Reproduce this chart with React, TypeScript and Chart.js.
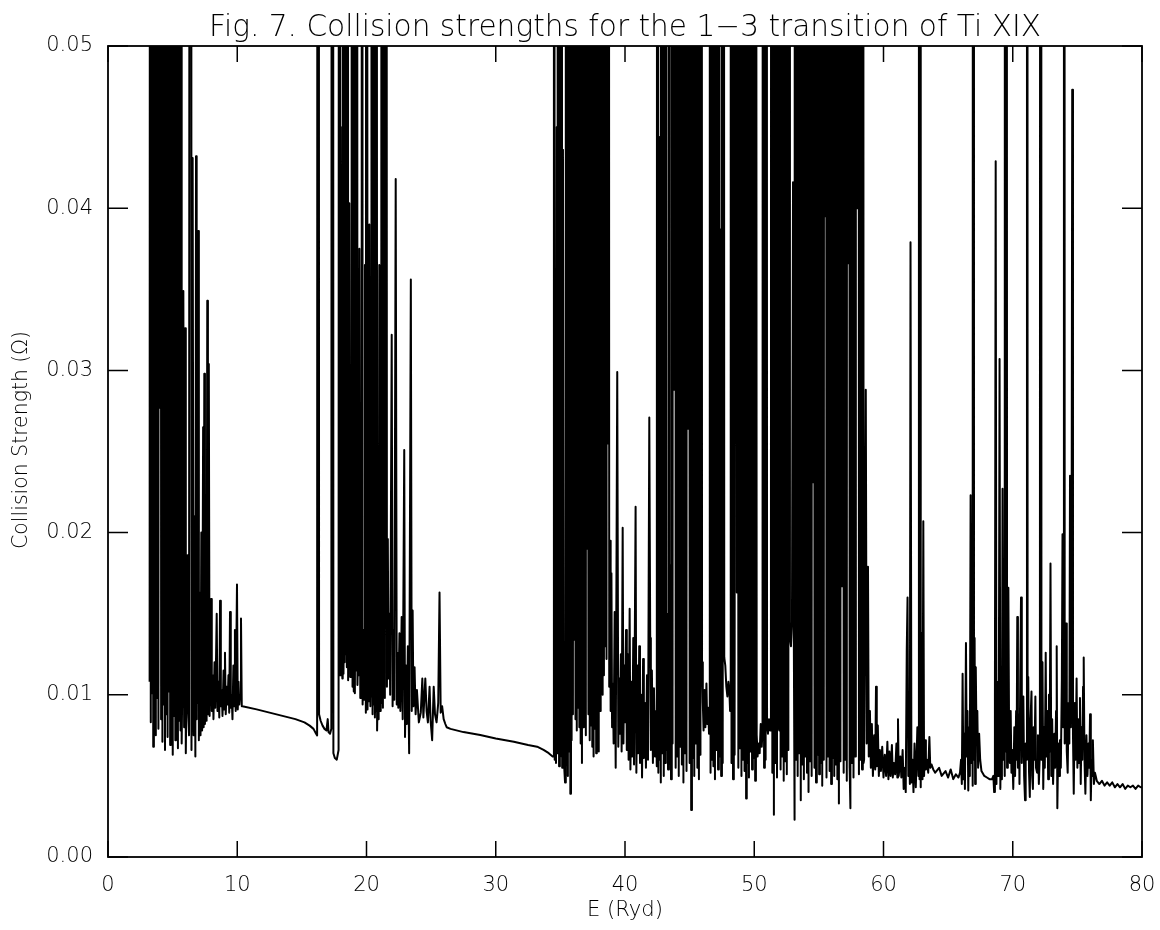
import React, { useEffect, useRef } from "react";
import { Chart, registerables } from "chart.js";

Chart.register(...registerables);

const TITLE = "Fig. 7. Collision strengths for the 1\u22123 transition of Ti XIX";
const X_TITLE = "E (Ryd)";
const Y_TITLE = "Collision Strength (\u03A9)";
const X_TICKS = [0, 10, 20, 30, 40, 50, 60, 70, 80];
const Y_TICKS = [0, 0.01, 0.02, 0.03, 0.04, 0.05];

type Pt = [number, number];

// E (Ryd), Omega
const segThreshold: Pt[] = [
  [3.22,0.0108],[3.27,0.16],[3.31,0.0083],[3.36,0.20],[3.41,0.0101],[3.46,0.14],[3.50,0.0068],[3.55,0.25],[3.60,0.0092],[3.65,0.11],
  [3.70,0.0075],[3.75,0.18],[3.80,0.0098],[3.85,0.30],[3.90,0.0079],[3.95,0.12],[4.00,0.0277],[4.06,0.22],[4.11,0.0085],[4.16,0.15],
  [4.21,0.0071],[4.26,0.19],[4.31,0.0094],[4.36,0.13],[4.41,0.0066],[4.46,0.28],[4.51,0.0088],[4.56,0.10],[4.61,0.0074],[4.66,0.17],
  [4.71,0.0102],[4.76,0.21],[4.81,0.0069],[4.86,0.12],[4.91,0.0090],[4.96,0.16],[5.01,0.0063],[5.06,0.24],[5.11,0.0087],[5.16,0.13],
  [5.21,0.0072],[5.26,0.18],[5.31,0.0095],[5.36,0.11],[5.41,0.0067],[5.46,0.20],[5.51,0.0084],[5.56,0.15],[5.61,0.0078],[5.65,0.09],
];

const segDecay: Pt[] = [
  [5.70,0.0070],[5.78,0.0130],[5.83,0.0349],[5.89,0.0080],[5.96,0.0326],[6.02,0.0064],[6.08,0.0110],[6.14,0.0186],[6.20,0.0090],[6.27,0.0075],
  [6.40,0.26],[6.46,0.0066],[6.55,0.0431],[6.62,0.0075],[6.70,0.0210],[6.76,0.0062],[6.81,0.0432],[6.86,0.0085],[6.91,0.0354],[6.94,0.0095],
  [6.98,0.0386],[7.03,0.0072],[7.10,0.0163],[7.16,0.0075],[7.22,0.0200],[7.28,0.0078],[7.36,0.0265],[7.40,0.0080],[7.45,0.0298],[7.50,0.0082],
  [7.58,0.0170],[7.63,0.0084],[7.68,0.0343],[7.73,0.0088],[7.80,0.0304],[7.86,0.0087],[7.97,0.0159],[8.03,0.0090],[8.10,0.0112],[8.16,0.0085],
  [8.24,0.0120],[8.30,0.0092],[8.41,0.0150],[8.47,0.0090],[8.55,0.0108],[8.61,0.0086],[8.67,0.0158],[8.73,0.0093],[8.80,0.0103],[8.86,0.0087],
  [8.94,0.0115],[9.00,0.0091],[9.05,0.0126],[9.11,0.0088],[9.18,0.0105],[9.25,0.0094],[9.32,0.0112],[9.38,0.0089],[9.44,0.0151],[9.50,0.0092],
  [9.57,0.0100],[9.63,0.0085],[9.70,0.0118],[9.76,0.0093],[9.82,0.0140],[9.88,0.0090],[9.98,0.0168],[10.04,0.0091],[10.10,0.0108],[10.16,0.0094],
  [10.22,0.0100],[10.29,0.0147],[10.35,0.0093],
];

const segFlat1: Pt[] = [
  [10.40,0.0093],[11.50,0.0091],[12.50,0.0089],[13.50,0.0087],[14.50,0.0085],[15.20,0.0083],[15.60,0.0081],[15.90,0.0079],[16.10,0.0076],
];

const segMid: Pt[] = [
  [16.18,0.0075],[16.26,0.30],[16.33,0.0088],[16.45,0.0084],[16.60,0.0081],[16.75,0.0079],[16.90,0.0078],[17.00,0.0085],[17.06,0.0077],[17.18,0.0076],
  [17.28,0.0079],[17.36,0.25],[17.44,0.0064],[17.55,0.0061],[17.70,0.0060],[17.84,0.0066],[17.90,0.22],[17.97,0.0112],[18.00,0.045],[18.05,0.0118],
  [18.10,0.0150],[18.13,0.0110],[18.16,0.24],[18.22,0.0113],[18.28,0.0189],[18.31,0.0120],[18.34,0.20],[18.40,0.0125],[18.45,0.0160],[18.48,0.0117],
  [18.52,0.30],[18.58,0.0109],[18.67,0.0403],[18.74,0.0111],[18.80,0.0216],[18.82,0.0125],[18.85,0.18],[18.92,0.0105],[18.97,0.0135],[19.00,0.0102],
  [19.03,0.26],[19.10,0.0101],[19.16,0.0238],[19.19,0.0115],[19.24,0.21],[19.30,0.0106],[19.38,0.0140],[19.41,0.0112],[19.45,0.0375],[19.52,0.0098],
  [19.57,0.0165],[19.59,0.0104],[19.63,0.28],[19.70,0.0094],[19.78,0.0140],[19.82,0.0097],[19.88,0.0365],[19.95,0.0089],[20.01,0.19],[20.08,0.0091],
  [20.14,0.0171],[20.17,0.0096],[20.22,0.039],[20.30,0.0093],[20.35,0.0125],[20.37,0.0099],[20.40,0.23],[20.47,0.0088],[20.52,0.0150],[20.54,0.0094],
  [20.58,0.17],[20.65,0.0086],[20.70,0.0110],[20.72,0.0090],[20.74,0.25],[20.82,0.0078],[20.90,0.0120],[20.94,0.0085],[20.99,0.0365],[21.05,0.0090],
  [21.10,0.0283],[21.14,0.0095],[21.20,0.27],[21.27,0.0092],[21.35,0.20],[21.42,0.0098],[21.50,0.22],[21.58,0.0105],[21.65,0.0196],[21.70,0.0110],
  [21.78,0.0150],[21.83,0.0100],[21.95,0.0322],[22.02,0.0093],[22.10,0.0140],[22.15,0.0097],[22.26,0.0418],[22.34,0.0094],
];

const segTail1: Pt[] = [
  [22.40,0.0126],[22.46,0.0092],[22.55,0.0138],[22.62,0.0090],[22.72,0.0148],[22.80,0.0085],[22.92,0.0251],[22.98,0.0074],[23.06,0.0118],[23.12,0.0082],
  [23.20,0.0130],[23.30,0.0064],[23.43,0.0356],[23.50,0.0090],[23.57,0.0152],[23.63,0.0093],[23.72,0.0117],[23.80,0.0088],[23.90,0.0103],[24.05,0.0083],
  [24.20,0.0089],[24.32,0.0110],[24.40,0.0086],[24.55,0.0110],[24.65,0.0090],[24.75,0.0083],[24.88,0.0105],[24.96,0.0084],[25.08,0.0072],[25.20,0.0105],
  [25.30,0.0088],[25.42,0.0083],[25.55,0.0095],[25.65,0.0163],[25.74,0.0089],[25.85,0.0093],[25.97,0.0085],[26.10,0.0082],[26.20,0.0080],
];

const segFlat2: Pt[] = [
  [26.50,0.0079],[27.50,0.0077],[28.80,0.00752],[30.00,0.0073],[31.40,0.0071],[32.50,0.0069],[33.20,0.0068],[33.70,0.0066],[34.10,0.0064],[34.40,0.0062],
];

const segBand1: Pt[] = [
  [34.45,0.0062],[34.50,0.20],[34.56,0.0060],[34.62,0.0120],[34.66,0.0058],[34.72,0.045],[34.78,0.0064],[34.84,0.25],[34.90,0.0056],[34.96,0.0150],
  [35.00,0.0062],[35.08,0.18],[35.14,0.0055],[35.20,0.0436],[35.28,0.0058],[35.36,0.0046],[35.42,0.22],[35.48,0.0057],[35.53,0.0459],[35.58,0.0050],
  [35.62,0.28],[35.67,0.0065],[35.72,0.16],[35.77,0.0039],[35.82,0.30],[35.87,0.0072],[35.92,0.21],[35.97,0.0088],[36.02,0.14],[36.07,0.0134],
  [36.12,0.26],[36.17,0.0085],[36.22,0.19],[36.27,0.0078],[36.32,0.12],[36.37,0.0092],[36.42,0.24],[36.47,0.0080],[36.52,0.17],[36.57,0.0070],
  [36.62,0.29],[36.67,0.0058],[36.72,0.15],[36.77,0.0080],[36.82,0.22],[36.87,0.0096],[36.92,0.18],[36.97,0.0075],[37.02,0.27],[37.07,0.0190],
  [37.12,0.13],[37.17,0.0088],[37.22,0.20],[37.27,0.0072],[37.32,0.16],[37.37,0.0081],[37.42,0.25],[37.47,0.0068],[37.52,0.11],[37.57,0.0062],
  [37.62,0.23],[37.67,0.0079],[37.72,0.18],[37.77,0.0064],[37.82,0.28],[37.87,0.0083],[37.92,0.14],[37.97,0.0065],[38.02,0.21],[38.07,0.0090],
  [38.12,0.17],[38.17,0.0216],[38.22,0.26],[38.27,0.0100],[38.32,0.12],[38.37,0.0112],[38.42,0.19],[38.47,0.0130],[38.52,0.24],[38.57,0.0122],
  [38.62,0.15],[38.68,0.0255],[38.72,0.20],[38.78,0.0105],[38.84,0.0195],[38.89,0.0090],[38.95,0.0175],[39.00,0.0080],[39.06,0.0107],[39.12,0.0070],
  [39.20,0.0151],[39.28,0.0055],[39.40,0.0299],[39.48,0.0068],[39.55,0.0110],[39.60,0.0076],[39.68,0.0125],[39.74,0.0065],[39.82,0.0203],[39.88,0.0070],
  [39.94,0.0118],[40.00,0.0083],[40.08,0.0140],[40.14,0.0066],[40.22,0.0125],[40.28,0.0060],[40.36,0.0153],[40.42,0.0054],[40.50,0.0108],[40.56,0.0062],
  [40.64,0.0135],[40.70,0.0057],[40.82,0.0216],[40.88,0.0052],[40.96,0.0118],[41.02,0.0064],[41.10,0.0130],[41.16,0.0058],[41.25,0.0100],[41.32,0.0049],
  [41.40,0.0122],[41.46,0.0061],[41.55,0.0095],[41.62,0.0055],[41.70,0.0112],[41.78,0.0060],[41.88,0.0271],[41.95,0.0135],[42.00,0.0066],[42.08,0.0115],
  [42.16,0.0058],[42.24,0.0104],[42.32,0.0062],[42.40,0.0090],[42.46,0.0056],
];

const segBand2: Pt[] = [
  [42.52,0.22],[42.58,0.0052],[42.64,0.0120],[42.68,0.0060],[42.72,0.0444],[42.77,0.0046],[42.83,0.26],[42.88,0.0064],[42.94,0.18],[43.00,0.0050],
  [43.06,0.12],[43.10,0.0058],[43.16,0.30],[43.22,0.0066],[43.28,0.0150],[43.33,0.0054],[43.40,0.24],[43.46,0.0060],[43.52,0.0180],[43.56,0.0048],
  [43.62,0.16],[43.68,0.0070],[43.74,0.20],[43.80,0.0288],[43.86,0.28],[43.92,0.0055],[43.98,0.15],[44.04,0.0062],[44.10,0.22],[44.16,0.0050],
  [44.22,0.13],[44.28,0.0068],[44.34,0.27],[44.40,0.0057],[44.46,0.19],[44.52,0.0046],[44.58,0.11],[44.64,0.0064],[44.70,0.25],[44.76,0.0053],
  [44.82,0.17],[44.88,0.0264],[44.94,0.21],[45.00,0.0058],[45.06,0.14],[45.12,0.0029],[45.18,0.29],[45.24,0.0061],[45.30,0.16],[45.36,0.0050],
  [45.42,0.23],[45.48,0.0070],[45.54,0.12],[45.60,0.0055],[45.66,0.26],[45.72,0.0048],[45.78,0.18],[45.84,0.0063],[45.90,0.20],[45.96,0.0120],
  [46.02,0.0095],[46.08,0.0078],[46.15,0.0103],[46.22,0.0080],[46.30,0.0107],[46.36,0.0082],[46.44,0.0092],[46.50,0.0076],
  [46.56,0.24],[46.62,0.0052],[46.68,0.15],[46.74,0.0060],[46.80,0.0308],[46.84,0.0056],[46.90,0.21],[46.96,0.0048],[47.02,0.28],[47.08,0.0066],
  [47.14,0.13],[47.20,0.0054],[47.26,0.19],[47.32,0.0062],[47.38,0.0387],[47.44,0.0050],[47.50,0.25],[47.56,0.0058],[47.62,0.17],[47.68,0.0123],
  [47.76,0.0118],[47.84,0.0105],[47.92,0.0099],[48.00,0.0108],[48.08,0.0101],[48.13,0.0090],
  [48.18,0.22],[48.24,0.0058],[48.30,0.16],[48.36,0.0048],[48.42,0.27],[48.48,0.0063],[48.54,0.12],[48.59,0.20],[48.65,0.0163],[48.71,0.26],
  [48.77,0.0055],[48.83,0.14],[48.89,0.0067],[48.95,0.23],[49.01,0.0050],[49.07,0.18],[49.13,0.0060],[49.19,0.29],[49.25,0.0053],[49.31,0.15],
  [49.37,0.0036],[49.42,0.0342],[49.47,0.0058],[49.53,0.21],[49.59,0.0049],[49.65,0.13],[49.71,0.0065],[49.77,0.25],[49.83,0.0054],[49.89,0.17],
  [49.95,0.0061],[50.01,0.20],[50.07,0.0047],[50.13,0.11],
  [50.19,0.0075],[50.26,0.0062],[50.34,0.0070],[50.42,0.0064],[50.50,0.0082],[50.58,0.0068],[50.64,0.0078],
  [50.70,0.24],[50.76,0.0055],[50.82,0.18],[50.88,0.0060],[50.94,0.21],[50.99,0.0082],
  [51.06,0.0076],[51.14,0.0085],[51.22,0.0078],[51.29,0.0080],
  [51.34,0.26],[51.40,0.0052],[51.46,0.15],[51.52,0.0026],[51.58,0.22],[51.64,0.0058],[51.70,0.13],[51.76,0.0049],[51.82,0.19],
  [51.88,0.0080],[51.94,0.0078],
  [51.98,0.23],[52.04,0.0054],[52.10,0.16],[52.16,0.0062],[52.22,0.28],[52.28,0.0047],[52.34,0.12],[52.40,0.0059],[52.46,0.20],[52.52,0.0051],
  [52.58,0.17],[52.64,0.0066],[52.70,0.25],
  [52.76,0.0135],[52.84,0.0130],[52.92,0.0145],[53.00,0.0416],[53.06,0.0140],[53.12,0.0023],
  [53.18,0.27],[53.24,0.0060],[53.30,0.15],[53.36,0.0050],[53.42,0.22],[53.48,0.0064],[53.54,0.12],[53.60,0.0035],[53.66,0.26],[53.72,0.0057],
  [53.78,0.18],[53.84,0.0048],[53.90,0.21],[53.96,0.0062],[54.02,0.14],[54.08,0.0052],[54.14,0.29],[54.20,0.0040],[54.26,0.16],[54.32,0.0059],
  [54.38,0.23],[54.44,0.0050],[54.50,0.19],[54.55,0.0231],[54.60,0.25],[54.66,0.0055],[54.72,0.13],[54.78,0.0046],[54.84,0.20],[54.90,0.0063],
  [54.96,0.17],[55.02,0.0051],[55.08,0.28],[55.14,0.0058],[55.20,0.11],[55.26,0.0044],[55.32,0.24],[55.38,0.0060],[55.43,0.16],[55.48,0.0395],
  [55.53,0.21],[55.59,0.0049],[55.65,0.15],[55.71,0.0062],[55.77,0.27],[55.83,0.0053],[55.89,0.12],[55.95,0.0045],[56.01,0.22],[56.07,0.0061],
  [56.13,0.18],[56.19,0.0050],[56.25,0.26],[56.31,0.0057],[56.37,0.14],[56.43,0.0048],[56.49,0.20],[56.55,0.0033],[56.61,0.17],[56.67,0.0059],
  [56.73,0.24],[56.80,0.0167],[56.86,0.13],[56.92,0.0052],[56.98,0.28],[57.04,0.0060],[57.10,0.15],[57.16,0.0047],[57.22,0.21],[57.27,0.0366],
  [57.32,0.19],[57.38,0.0055],[57.44,0.0030],[57.50,0.25],[57.56,0.0058],[57.62,0.12],[57.68,0.0049],[57.74,0.23],[57.80,0.0062],[57.86,0.17],
  [57.92,0.0405],[57.98,0.0400],[58.04,0.20],[58.10,0.0051],[58.16,0.27],[58.22,0.0060],[58.28,0.14],[58.34,0.0054],[58.40,0.19],[58.46,0.0058],
];

const segTail2: Pt[] = [
  [58.50,0.0060],[58.63,0.0288],[58.70,0.0070],[58.80,0.0179],[58.86,0.0062],[58.95,0.0090],[59.02,0.0055],[59.10,0.0082],[59.18,0.0050],[59.28,0.0075],
  [59.36,0.0054],[59.42,0.0105],[59.48,0.0056],[59.56,0.0081],[59.64,0.0050],[59.72,0.0066],[59.80,0.0053],[59.90,0.0068],[60.00,0.0049],[60.10,0.0063],
  [60.20,0.0050],[60.30,0.0071],[60.38,0.0048],[60.46,0.0065],[60.55,0.0050],[60.65,0.0069],[60.72,0.0049],[60.80,0.0058],[60.90,0.0051],[61.00,0.0070],
  [61.07,0.0049],[61.12,0.0085],[61.18,0.0050],[61.30,0.0062],[61.38,0.0049],[61.48,0.0066],[61.56,0.0042],[61.66,0.0055],[61.72,0.0040],[61.80,0.0128],
  [61.86,0.0160],[61.92,0.0050],[62.00,0.0065],[62.04,0.0045],[62.09,0.0379],[62.16,0.0046],[62.24,0.0060],[62.32,0.0040],[62.40,0.0070],[62.50,0.0043],
  [62.62,0.0080],[62.70,0.0050],[62.74,0.30],[62.79,0.0048],[62.83,0.25],[62.88,0.0043],[62.96,0.0138],[63.02,0.0048],[63.08,0.0207],[63.14,0.0050],
  [63.22,0.0072],[63.28,0.0054],[63.36,0.0060],[63.46,0.0052],[63.55,0.0074],[63.62,0.0055],[63.72,0.0057],[63.85,0.0054],
];

const segFlat3: Pt[] = [
  [64.00,0.0052],[64.30,0.0055],[64.50,0.0050],[64.80,0.0053],[65.00,0.0049],[65.20,0.0054],[65.40,0.0048],[65.60,0.0051],[65.80,0.0049],
];

const segGroup1: Pt[] = [
  [65.92,0.0052],[66.00,0.0060],[66.06,0.0045],[66.12,0.0113],[66.18,0.0048],[66.24,0.0076],[66.30,0.0042],[66.38,0.0132],[66.44,0.0062],[66.50,0.0090],
  [66.56,0.0041],[66.62,0.0080],[66.68,0.0050],[66.74,0.0223],[66.80,0.0058],[66.86,0.0100],[66.90,0.0044],[66.95,0.30],[67.00,0.0060],[67.05,0.0135],
  [67.09,0.0045],[67.14,0.0117],[67.20,0.0072],[67.26,0.0090],[67.32,0.0055],[67.40,0.0076],[67.48,0.0060],[67.58,0.0053],
];

const segFlat4: Pt[] = [
  [67.80,0.0050],[68.00,0.0049],[68.20,0.0048],[68.40,0.0048],
];

const segGroup2: Pt[] = [
  [68.50,0.0050],[68.56,0.0040],[68.62,0.0095],[68.68,0.0429],[68.74,0.0045],[68.80,0.0108],[68.86,0.0050],[68.92,0.0075],[68.98,0.0307],[69.04,0.0042],
  [69.10,0.0090],[69.16,0.0048],[69.21,0.0227],[69.27,0.0060],[69.33,0.0110],[69.38,0.0050],[69.42,0.30],[69.46,0.0065],[69.50,0.22],[69.56,0.0055],
  [69.62,0.0085],[69.66,0.0166],[69.72,0.0072],[69.78,0.0058],[69.84,0.0090],[69.90,0.0052],[69.96,0.0066],[70.04,0.0042],[70.12,0.0080],[70.18,0.0050],
  [70.26,0.0090],[70.30,0.0060],[70.35,0.0148],[70.40,0.0055],[70.47,0.0088],[70.52,0.0045],[70.58,0.0110],[70.64,0.0160],[70.70,0.0058],[70.76,0.0080],
  [70.82,0.0099],[70.88,0.0050],[70.95,0.0035],[71.00,0.0070],[71.05,0.0060],[71.10,0.28],[71.15,0.0070],[71.20,0.0111],[71.26,0.0052],[71.32,0.0037],
  [71.38,0.0085],[71.45,0.0102],[71.50,0.0050],[71.56,0.0042],[71.62,0.0080],[71.68,0.0060],[71.75,0.0099],[71.80,0.0055],[71.88,0.0052],[71.95,0.0075],
  [72.02,0.0045],[72.10,0.0065],[72.17,0.26],[72.22,0.0060],[72.30,0.0120],[72.36,0.0042],[72.42,0.0080],[72.48,0.0055],[72.55,0.0126],[72.60,0.0062],
  [72.68,0.0090],[72.74,0.0048],[72.80,0.0100],[72.86,0.0065],[72.92,0.0181],[72.98,0.0050],[73.05,0.0085],[73.12,0.0045],[73.22,0.0076],[73.28,0.0055],
  [73.35,0.0090],[73.40,0.0130],[73.45,0.0030],[73.52,0.0070],[73.58,0.0050],[73.65,0.0072],[73.72,0.0055],[73.80,0.0110],[73.85,0.0199],[73.90,0.0080],
  [73.96,0.30],[74.02,0.0070],[74.08,0.0100],[74.12,0.0144],[74.18,0.0065],[74.25,0.0052],[74.32,0.0095],[74.38,0.0070],[74.43,0.0235],[74.50,0.0080],
  [74.55,0.0150],[74.60,0.0473],[74.66,0.0075],[74.72,0.0039],[74.80,0.0095],[74.86,0.0060],[74.94,0.0110],[75.00,0.0055],[75.08,0.0085],[75.14,0.0058],
  [75.20,0.0098],[75.26,0.0045],[75.32,0.0080],[75.38,0.0060],[75.44,0.0105],[75.49,0.0123],[75.55,0.0060],[75.62,0.0039],[75.70,0.0075],[75.78,0.0050],
  [75.86,0.0070],[75.92,0.0055],[75.98,0.0088],[76.04,0.0035],[76.10,0.0060],[76.16,0.0050],[76.20,0.0072],[76.28,0.0045],[76.36,0.0052],[76.42,0.0050],
];

const segFlat5: Pt[] = [
  [76.50,0.0047],[76.70,0.0045],[76.90,0.0047],[77.10,0.0044],[77.30,0.0046],[77.50,0.0044],[77.70,0.0046],[77.90,0.0043],[78.10,0.0045],[78.30,0.0043],
  [78.50,0.0045],[78.70,0.0042],[78.90,0.0044],[79.10,0.0043],[79.30,0.0044],[79.50,0.0042],[79.70,0.0044],[79.90,0.0043],[80.00,0.0043],
];

const SEGMENTS: Pt[][] = [
  segThreshold, segDecay, segFlat1, segMid, segTail1, segFlat2, segBand1, segBand2,
  segTail2, segFlat3, segGroup1, segFlat4, segGroup2, segFlat5,
];

const FONT = "'DejaVu Sans', 'Open Sans', sans-serif";

function fitFontSize(ctx: CanvasRenderingContext2D, text: string, width: number): number {
  ctx.font = `200 20px ${FONT}`;
  const w = ctx.measureText(text).width;
  return (20 * width) / w;
}

const framePlugin = {
  id: "idlFrame",
  afterDatasetsDraw(chart: any) {
    const { ctx, chartArea, scales } = chart;
    const { left, right, top, bottom } = chartArea;
    const xs = scales.x;
    const ys = scales.y;
    ctx.save();
    ctx.strokeStyle = "#000";
    ctx.lineWidth = 1.8;
    ctx.strokeRect(left, top, right - left, bottom - top);
    ctx.lineWidth = 1.5;
    ctx.beginPath();
    for (const v of X_TICKS) {
      const px = xs.getPixelForValue(v);
      ctx.moveTo(px, bottom);
      ctx.lineTo(px, bottom - 16);
      ctx.moveTo(px, top);
      ctx.lineTo(px, top + 16);
    }
    for (const v of Y_TICKS) {
      const py = ys.getPixelForValue(v);
      ctx.moveTo(left, py);
      ctx.lineTo(left + 20, py);
      ctx.moveTo(right, py);
      ctx.lineTo(right - 20, py);
    }
    ctx.stroke();

    ctx.fillStyle = "#000";
    const cx = (left + right) / 2;
    // main title
    const ts = fitFontSize(ctx, TITLE, 832);
    ctx.font = `200 ${ts}px ${FONT}`;
    ctx.textAlign = "center";
    ctx.textBaseline = "alphabetic";
    ctx.fillText(TITLE, cx, 36);
    // x title
    const xsz = fitFontSize(ctx, X_TITLE, 76);
    ctx.font = `200 ${xsz}px ${FONT}`;
    ctx.textBaseline = "middle";
    ctx.fillText(X_TITLE, cx, 911);
    // y title
    const ysz = fitFontSize(ctx, Y_TITLE, 218);
    ctx.font = `200 ${ysz}px ${FONT}`;
    ctx.translate(22, 440);
    ctx.rotate(-Math.PI / 2);
    ctx.textBaseline = "middle";
    ctx.fillText(Y_TITLE, 0, 0);
    ctx.restore();
  },
};

export default function App() {
  const ref = useRef<HTMLCanvasElement>(null);
  useEffect(() => {
    const canvas = ref.current;
    if (!canvas) return;
    const points = SEGMENTS.flat().map(([x, y]) => ({ x, y }));
    const tickFont = { family: FONT, size: 21, weight: "200" as any };
    const chart = new Chart(canvas, {
      type: "line",
      data: {
        datasets: [
          {
            data: points,
            borderColor: "#000",
            borderWidth: 2,
            pointRadius: 0,
            pointHoverRadius: 0,
            tension: 0,
            fill: false,
            borderJoinStyle: "round",
            clip: 0,
          } as any,
        ],
      },
      options: {
        animation: false,
        responsive: false,
        devicePixelRatio: 1,
        parsing: false,
        normalized: true,
        events: [],
        layout: { padding: { left: 0, right: 18, top: 46, bottom: 0 } },
        plugins: { legend: { display: false }, tooltip: { enabled: false }, title: { display: false } },
        scales: {
          x: {
            type: "linear",
            min: 0,
            max: 80,
            afterFit: (s: any) => { s.height = 73; s.paddingLeft = 0; s.paddingRight = 0; },
            afterBuildTicks: (s: any) => { s.ticks = X_TICKS.map((v) => ({ value: v })); },
            grid: { display: false, drawTicks: false },
            border: { display: false },
            ticks: {
              font: tickFont,
              color: "#000",
              padding: 16,
              maxRotation: 0,
              autoSkip: false,
              callback: (v: any) => String(v),
            },
          },
          y: {
            type: "linear",
            min: 0,
            max: 0.05,
            afterFit: (s: any) => { s.width = 108; s.paddingTop = 0; s.paddingBottom = 0; },
            afterBuildTicks: (s: any) => { s.ticks = Y_TICKS.map((v) => ({ value: v })); },
            grid: { display: false, drawTicks: false },
            border: { display: false },
            ticks: {
              font: tickFont,
              color: "#000",
              padding: 15,
              autoSkip: false,
              callback: (v: any) => Number(v).toFixed(2),
            },
          },
        },
      } as any,
      plugins: [framePlugin],
    });
    return () => chart.destroy();
  }, []);
  return (
    <div style={{ position: "absolute", left: 0, top: 0, width: 1160, height: 930, background: "#fff" }}>
      <canvas ref={ref} width={1160} height={930} style={{ width: 1160, height: 930, display: "block" }} />
    </div>
  );
}
